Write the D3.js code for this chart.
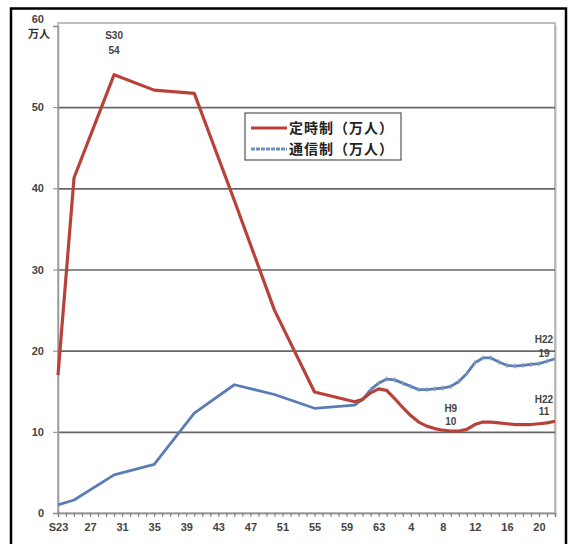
<!DOCTYPE html>
<html>
<head>
<meta charset="utf-8">
<script src="https://cdn.jsdelivr.net/npm/d3@7"></script>
<style>
  body { margin: 0; background: #fff; }
  text { font-family: "Liberation Sans", "DejaVu Sans", sans-serif; }
  text.jp { font-family: "Noto Sans CJK JP", sans-serif; }
</style>
</head>
<body>
<svg id="line-chart"></svg>
<script>
// years of the readings (Western calendar)
let teijiYears = [1948, 1950, 1955, 1960, 1965, 1970, 1975, 1980, 1985, 1986, 1987, 1988, 1989, 1990,
  1991, 1992, 1993, 1994, 1995, 1996, 1997, 1998, 1999, 2000, 2001, 2002, 2003, 2004, 2005, 2006,
  2007, 2008, 2009, 2010];
// 定時制 (万人)
let teijiValues = [17, 41.3, 54, 52.1, 51.7, 38.5, 25, 14.9, 13.7, 14.0, 14.8, 15.3, 15.1, 14.1,
  13.0, 12.0, 11.2, 10.7, 10.4, 10.2, 10.1, 10.1, 10.3, 10.9, 11.2, 11.2, 11.1, 11.0, 10.9, 10.9,
  10.9, 11.0, 11.1, 11.3];

let tsushinYears = [1948, 1950, 1955, 1960, 1965, 1970, 1975, 1980, 1985, 1986, 1987, 1988, 1989, 1990,
  1991, 1992, 1993, 1994, 1995, 1996, 1997, 1998, 1999, 2000, 2001, 2002, 2003, 2004, 2005, 2006,
  2007, 2008, 2009, 2010];
// 通信制 (万人)
let tsushinValues = [1.0, 1.6, 4.7, 6.0, 12.3, 15.8, 14.6, 12.9, 13.3, 14.0, 15.2, 16.0, 16.5, 16.4,
  16.0, 15.6, 15.2, 15.2, 15.3, 15.4, 15.6, 16.2, 17.2, 18.5, 19.1, 19.1, 18.6, 18.2, 18.1, 18.2,
  18.3, 18.4, 18.7, 19.0];

// x tick labels (Showa / Heisei years)
let tickYears = [1948, 1952, 1956, 1960, 1964, 1968, 1972, 1976, 1980, 1984, 1988, 1992, 1996, 2000, 2004, 2008];
let tickLabels = ['S23', '27', '31', '35', '39', '43', '47', '51', '55', '59', '63', '4', '8', '12', '16', '20'];
let yTicks = [0, 10, 20, 30, 40, 50, 60];

let seriesNames = ['定時制（万人）', '通信制（万人）'];

// callouts: year, value, era label, shown number
let notes = [
  { year: 1955, value: 54, era: 'S30', num: '54' },
  { year: 1997, value: 10, era: 'H9', num: '10' },
  { year: 2009, value: 19, era: 'H22', num: '19' },
  { year: 2009, value: 11, era: 'H22', num: '11' }
];
// label offsets above the point (numbers line, era line)
let noteShift = [[-21, -36], [-7, -20], [-2, -16], [-9, -21]];

let config = {
  'svg': { width: 568, height: 544 },
  'plot': { left: 58, top: 26, right: 555, bottom: 513 }
};

let svg = d3.select('body').select('#line-chart')
  .attr('width', config.svg.width)
  .attr('height', config.svg.height);

// outer black frame
svg.append('rect')
  .attr('x', 11).attr('y', 8.5)
  .attr('width', 555).attr('height', 540)
  .attr('fill', 'none')
  .attr('stroke', '#000')
  .attr('stroke-width', 2.5);

let p = config.plot;

let x = d3.scaleLinear().domain([1948, 2010]).range([p.left, p.right]);
let y = d3.scaleLinear().domain([0, 60]).range([p.bottom, p.top]);

// plot box with a soft shadow
svg.append('rect')
  .attr('x', p.left + 2).attr('y', p.top - 1)
  .attr('width', p.right - p.left).attr('height', p.bottom - p.top + 3)
  .attr('fill', '#ddd');
svg.append('rect')
  .attr('x', p.left).attr('y', p.top - 3)
  .attr('width', p.right - p.left).attr('height', p.bottom - p.top + 3)
  .attr('fill', '#fff')
  .attr('stroke', '#aaa')
  .attr('stroke-width', 1.5);

// grid lines
let gridlines = d3.axisLeft(y)
  .tickValues(yTicks.slice(1, 6))
  .tickFormat('')
  .tickSize(-(p.right - p.left));
svg.append('g')
  .attr('class', 'grid')
  .attr('transform', translate(p.left, 0))
  .call(gridlines)
  .call(g => g.select('.domain').remove())
  .call(g => g.selectAll('line').attr('stroke', '#666').attr('stroke-width', 1.6));

// y axis
let yAxis = d3.axisLeft(y).tickValues(yTicks).tickSize(5).tickPadding(9);
let yGroup = svg.append('g')
  .attr('transform', translate(p.left, 0))
  .call(yAxis);
yGroup.select('.domain').attr('stroke', '#999').attr('stroke-width', 1.5);
yGroup.selectAll('line').attr('stroke', '#888');
yGroup.selectAll('text')
  .attr('font-size', 11)
  .attr('font-weight', 'bold')
  .attr('fill', '#444')
  .attr('dy', d => d == 60 ? '-0.35em' : '0.32em');

svg.append('text')
  .attr('class', 'jp')
  .attr('x', 28).attr('y', 38)
  .attr('font-size', 11)
  .attr('font-weight', 'bold')
  .attr('fill', '#333')
  .text('万人');

// x axis: a small tick for every year, labels every 4 years
let xAxis = d3.axisBottom(x)
  .tickValues(d3.range(1948, 2011))
  .tickFormat('')
  .tickSize(4);
let xGroup = svg.append('g')
  .attr('transform', translate(0, p.bottom))
  .call(xAxis);
xGroup.select('.domain').attr('stroke', '#999').attr('stroke-width', 1.5);
xGroup.selectAll('line').attr('stroke', '#777');

let xLabels = d3.axisBottom(x)
  .tickValues(tickYears)
  .tickFormat((d, i) => tickLabels[i])
  .tickSize(0)
  .tickPadding(10);
let xlGroup = svg.append('g')
  .attr('transform', translate(0, p.bottom))
  .call(xLabels);
xlGroup.select('.domain').remove();
xlGroup.selectAll('text')
  .attr('font-size', 11)
  .attr('font-weight', 'bold')
  .attr('fill', '#444');

// lines
let line = d3.line()
  .x(d => x(d[0]))
  .y(d => y(d[1]));

let teiji = teijiYears.map((d, i) => [d, teijiValues[i]]);
let tsushin = tsushinYears.map((d, i) => [d, tsushinValues[i]]);

svg.append('path')
  .datum(tsushin)
  .attr('fill', 'none')
  .attr('stroke', '#5b7db3')
  .attr('stroke-width', 2.8)
  .attr('stroke-linejoin', 'round')
  .attr('d', line);

svg.append('g')
  .selectAll('line')
  .data(tsushin.filter(d => d[0] > 1985))
  .join('line')
  .attr('x1', d => x(d[0])).attr('x2', d => x(d[0]))
  .attr('y1', d => y(d[1]) - 2.5).attr('y2', d => y(d[1]) + 2.5)
  .attr('stroke', '#8da3c4')
  .attr('stroke-width', 1.2);

svg.append('path')
  .datum(teiji)
  .attr('fill', 'none')
  .attr('stroke', '#b8423a')
  .attr('stroke-width', 3.2)
  .attr('stroke-linejoin', 'round')
  .attr('d', line);

// callout labels
let noteG = svg.append('g')
  .attr('font-size', 10)
  .attr('font-weight', 'bold')
  .attr('fill', '#444')
  .attr('text-anchor', 'middle');
notes.forEach((n, i) => {
  let tx = Math.min(x(n.year), 544);
  noteG.append('text')
    .attr('x', tx).attr('y', y(n.value) + noteShift[i][1])
    .text(n.era);
  noteG.append('text')
    .attr('x', tx).attr('y', y(n.value) + noteShift[i][0])
    .text(n.num);
});

// legend
let legend = svg.append('g').attr('transform', translate(245, 113));
legend.append('rect')
  .attr('width', 156).attr('height', 47)
  .attr('fill', '#fff')
  .attr('stroke', '#555')
  .attr('stroke-width', 1.2);
let colors = ['#b8423a', '#6f8fc0'];
seriesNames.forEach((name, i) => {
  let ly = 15 + i * 21;
  legend.append('line')
    .attr('x1', 6).attr('x2', 42)
    .attr('y1', ly).attr('y2', ly)
    .attr('stroke', colors[i])
    .attr('stroke-width', 3)
    .attr('stroke-dasharray', i == 1 ? '4,1' : null);
  legend.append('text')
    .attr('class', 'jp')
    .attr('x', 44).attr('y', ly + 5)
    .attr('font-size', 14)
    .attr('font-weight', 'bold')
    .attr('letter-spacing', 1)
    .attr('fill', '#222')
    .text(name);
});

// helper method to make translating easier
function translate(x, y) {
  return 'translate(' + x + ',' + y + ')';
}
</script>
</body>
</html>
